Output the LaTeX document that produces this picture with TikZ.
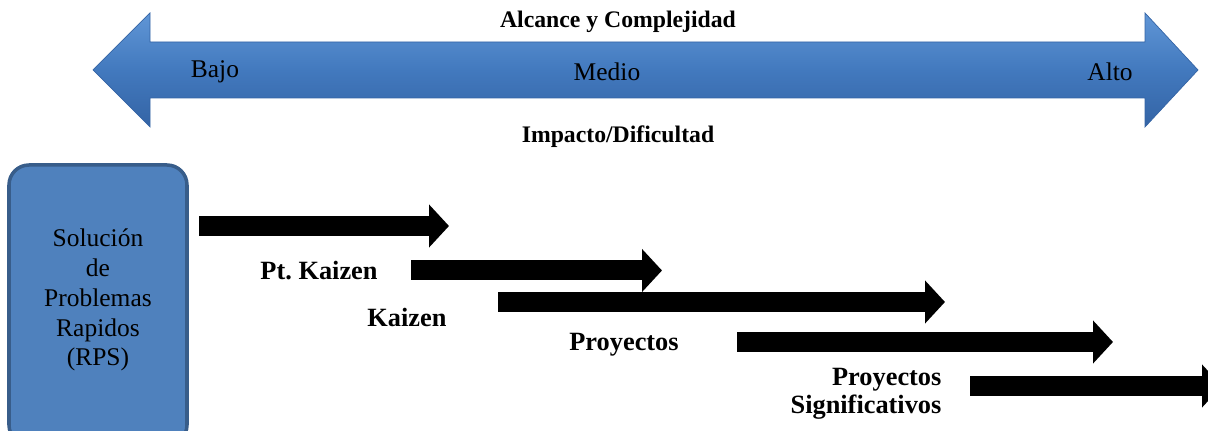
\documentclass[tikz,border=0pt]{standalone}
\usepackage{fontspec}
\setmainfont{Liberation Serif}
\usetikzlibrary{arrows.meta}
\definecolor{barblue}{RGB}{66,121,190}
\definecolor{barlight}{RGB}{96,150,214}
\definecolor{bardark}{RGB}{52,100,165}
\definecolor{boxblue}{RGB}{79,129,189}
\definecolor{boxedge}{RGB}{56,93,138}
\tikzset{
  scalelbl/.style={font=\fontsize{14.5}{17}\selectfont},
  axislbl/.style={font=\bfseries\fontsize{13.5}{16}\selectfont},
  steplbl/.style={font=\bfseries\fontsize{15}{17}\selectfont},
  rpsbox/.style={draw=boxedge,line width=2pt,fill=boxblue,rounded corners=0.4cm},
  blackarrow/.style={line width=0.4cm,-{Triangle[length=0.4cm,width=0.84cm]}}
}
\begin{document}
\begin{tikzpicture}[x=0.02cm,y=-0.02cm]
\useasboundingbox (0,0) rectangle (1208,431);
% scale arrow
\shade[top color=barlight,bottom color=bardark,middle color=barblue,draw=bardark,line width=0.4pt]
  (93,70) -- (150,13) -- (150,42) -- (1145,42) -- (1145,13) -- (1198,70)
  -- (1145,127) -- (1145,98) -- (150,98) -- (150,127) -- cycle;
\node[scalelbl] (bajo) at (215,72) {Bajo};
\node[scalelbl] (medio) at (607,72) {Medio};
\node[scalelbl] (alto) at (1110,72) {Alto};
\node[axislbl] (alcance) at (618,22) {Alcance y Complejidad};
\node[axislbl] (impacto) at (618,137) {Impacto/Dificultad};
% RPS box
\draw[rpsbox] (9,165) rectangle (187,445);
\node[align=center,font=\fontsize{14.5}{17}\selectfont] (rps) at (98,300)
  {Soluci\'on\\de\\Problemas\\Rapidos\\(RPS)};
% step arrows
\foreach \i/\xa/\xb/\yy in {1/199/449/226, 2/411/662/270.5, 3/498/945/302, 4/737/1113/342, 5/970/1222/386} {
  \coordinate (s\i) at (\xa,\yy);
  \coordinate (e\i) at (\xb,\yy);
  \draw[blackarrow] (s\i) -- (e\i);
}
% labels
\node[steplbl] (ptk) at (319,271) {Pt.\ Kaizen};
\node[steplbl] (kz) at (407,317) {Kaizen};
\node[steplbl] (proy) at (624,345) {Proyectos};
\node[steplbl,align=right,font=\bfseries\fontsize{15}{16}\selectfont] (proysig) at (866,394) {Proyectos\\Significativos};
\end{tikzpicture}
\end{document}
